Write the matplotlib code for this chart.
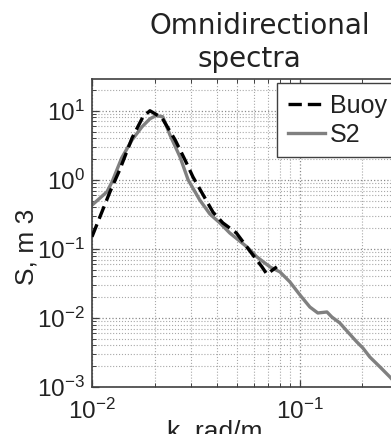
import matplotlib
matplotlib.use("Agg")
import matplotlib.pyplot as plt
from matplotlib.ticker import LogLocator, NullFormatter

plt.rcParams['font.family'] = ['Liberation Sans', 'DejaVu Sans']
plt.rcParams['mathtext.fontset'] = 'custom'
plt.rcParams['mathtext.rm'] = 'Liberation Sans'
plt.rcParams['mathtext.it'] = 'Liberation Sans:italic'
plt.rcParams['mathtext.bf'] = 'Liberation Sans:bold'

# ---- data ----
k_buoy = [0.0100, 0.0122, 0.0136, 0.0156, 0.0176, 0.0190, 0.0217, 0.0251,
          0.0280, 0.0306, 0.0342, 0.0382, 0.0426, 0.0495, 0.0575, 0.0657,
          0.0694, 0.0775]
s_buoy = [0.15, 0.67, 1.4, 4.06, 8.2, 10.0, 7.9, 3.8,
          1.95, 1.1, 0.61, 0.34, 0.238, 0.17, 0.093, 0.055,
          0.043, 0.055]

k_s2 = [0.0100, 0.0118, 0.0125, 0.0139, 0.0156, 0.0174, 0.0190, 0.0203,
        0.0219, 0.0237, 0.0265, 0.0290, 0.0330, 0.0369, 0.0412, 0.0460,
        0.0556, 0.0621, 0.0718, 0.0802, 0.0895, 0.1000, 0.1117, 0.122,
        0.135, 0.1426, 0.1556, 0.170, 0.188, 0.201, 0.217, 0.243,
        0.271, 0.300]
s_s2 = [0.43, 0.67, 0.94, 2.08, 3.8, 5.86, 7.65, 8.5,
        8.2, 4.49, 2.15, 1.0, 0.51, 0.32, 0.238, 0.17,
        0.107, 0.0766, 0.0548, 0.0464, 0.0333, 0.0216, 0.0144, 0.0118,
        0.0122, 0.0103, 0.00847, 0.00627, 0.00449, 0.00367, 0.00272, 0.00195,
        0.0014, 0.0010]

series_labels = ['Buoy', 'S2']
title_lines = ['Omnidirectional', 'spectra']
xlabel = 'k, rad/m'
ylabel = 'S, m 3'

W, H = 391, 434
fig = plt.figure(figsize=(W / 100, H / 100), dpi=100)
L, R, T, B = 92, 425, 79, 387
ax = fig.add_axes([L / W, 1 - B / H, (R - L) / W, (B - T) / H])

ax.plot(k_buoy, s_buoy, color='black', linestyle=(0, (4.0, 1.8)), linewidth=2.4,
        label=series_labels[0], zorder=3)
ax.plot(k_s2, s_s2, color='#808080', linestyle='-', linewidth=2.4,
        label=series_labels[1], zorder=2)

ax.set_xscale('log')
ax.set_yscale('log')
ax.set_xlim(0.01, 0.4)
ax.set_ylim(1e-3, 10 ** 1.46)

ax.xaxis.set_major_locator(LogLocator(base=10, numticks=10))
ax.yaxis.set_major_locator(LogLocator(base=10, numticks=10))
ax.xaxis.set_minor_locator(LogLocator(base=10, subs=range(2, 10), numticks=20))
ax.yaxis.set_minor_locator(LogLocator(base=10, subs=range(2, 10), numticks=20))
ax.xaxis.set_minor_formatter(NullFormatter())
ax.yaxis.set_minor_formatter(NullFormatter())

ax.grid(True, which='major', linestyle=':', color='#8a8a8a', linewidth=0.9)
ax.grid(True, which='minor', linestyle=':', color='#a8a8a8', linewidth=0.8)
ax.set_axisbelow(True)

ax.tick_params(which='both', direction='in', top=True, right=True,
               colors='#404040', labelcolor='#222222')
ax.tick_params(which='major', length=5, width=0.9, labelsize=17.5)
ax.tick_params(which='minor', length=3, width=0.7)
ax.tick_params(axis='x', which='major', pad=8.5)
ax.tick_params(axis='y', which='major', pad=5)
for sp in ax.spines.values():
    sp.set_color('#404040')
    sp.set_linewidth(1.2)

leg = ax.legend(loc='upper left', bbox_to_anchor=((277 - L) / (R - L), (B - 83) / (B - T)),
                fontsize=18, frameon=True, fancybox=False, framealpha=1,
                edgecolor='#404040', handlelength=1.5, handletextpad=0.2,
                borderpad=0.43, labelspacing=0.2, borderaxespad=0)
leg.get_frame().set_linewidth(1.0)
for t in leg.get_texts():
    t.set_color('#222222')

fig.text(260 / W, 1 - 34 / H, title_lines[0], ha='center', va='baseline',
         fontsize=20, family='DejaVu Sans', color='#222222')
fig.text(249 / W, 1 - 67 / H, title_lines[1], ha='center', va='baseline',
         fontsize=20, family='DejaVu Sans', color='#222222')

fig.text(215 / W, 1 - 419 / H, xlabel, ha='center', va='top', fontsize=19, color='#222222')
fig.text(27 / W, 1 - 247 / H, ylabel, ha='center', va='center', rotation=90,
         fontsize=19, color='#222222')

fig.savefig('out.png', dpi=100)
